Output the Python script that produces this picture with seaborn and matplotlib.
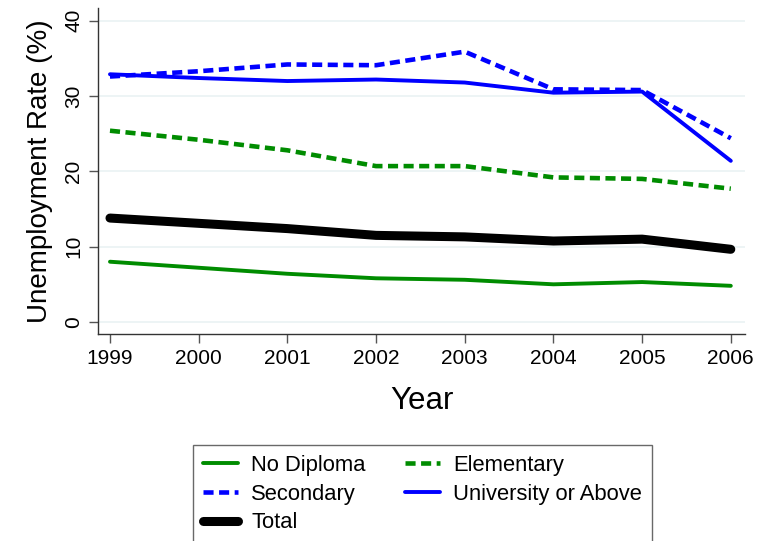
import matplotlib
matplotlib.use("Agg")
import matplotlib.pyplot as plt
import seaborn as sns
import pandas as pd

years = [1999, 2000, 2001, 2002, 2003, 2004, 2005, 2006]
no_diploma = [8.0, 7.2, 6.4, 5.8, 5.6, 5.0, 5.3, 4.8]
elementary = [25.4, 24.2, 22.8, 20.7, 20.7, 19.2, 19.0, 17.7]
secondary = [32.6, 33.3, 34.2, 34.1, 35.9, 30.9, 30.8, 24.4]
university = [32.9, 32.4, 32.0, 32.2, 31.8, 30.45, 30.6, 21.4]
total = [13.8, 13.1, 12.4, 11.5, 11.3, 10.75, 11.0, 9.65]
y_ticks = [0, 10, 20, 30, 40]

sns.set_theme(style="white")
plt.rcParams["font.family"] = ["Liberation Sans", "DejaVu Sans"]
plt.rcParams["text.color"] = "black"
plt.rcParams["axes.labelcolor"] = "black"
plt.rcParams["xtick.color"] = "black"
plt.rcParams["ytick.color"] = "black"

frames = {
    "No Diploma": no_diploma,
    "Secondary": secondary,
    "Total": total,
    "Elementary": elementary,
    "University or Above": university,
}
df = pd.concat(
    [pd.DataFrame({"Year": years, "Rate": v, "Group": k}) for k, v in frames.items()],
    ignore_index=True,
)

styles = {
    "No Diploma": dict(color="#008c00", lw=2.8, ls="-"),
    "Secondary": dict(color="#0000ff", lw=3.3, ls=(0, (2.2, 1.2))),
    "Total": dict(color="black", lw=6.5, ls="-"),
    "Elementary": dict(color="#008c00", lw=3.3, ls=(0, (2.2, 1.2))),
    "University or Above": dict(color="#0000ff", lw=2.8, ls="-"),
}

fig = plt.figure(figsize=(7.58, 5.41), dpi=100)
ax = fig.add_axes([98 / 758, 1 - 334 / 541, (745 - 98) / 758, (334 - 8) / 541])

for name in frames:
    st = styles[name]
    sns.lineplot(
        data=df[df["Group"] == name], x="Year", y="Rate", ax=ax,
        color=st["color"], linewidth=st["lw"], linestyle=st["ls"],
        label=name, solid_capstyle="round", dash_capstyle="butt",
    )

ax.set_xlim(1998.865, 2006.16)
ax.set_ylim(-1.6, 41.7)
ax.set_xticks(years)
ax.set_yticks(y_ticks)
ax.set_xticklabels([str(y) for y in years], fontsize=15)
ax.set_yticklabels([str(t) for t in y_ticks], fontsize=15, rotation=90, va="center")
for t in y_ticks:
    ax.axhline(t, color="#eaf2f3", lw=1.2, zorder=0)

for side in ["top", "right"]:
    ax.spines[side].set_visible(False)
for side in ["left", "bottom"]:
    ax.spines[side].set_color("#333333")
    ax.spines[side].set_linewidth(1.0)
ax.tick_params(axis="both", direction="out", length=6.5, width=1, color="#555555",
               left=True, bottom=True, pad=4)

ax.set_xlabel("Year", fontsize=22.5, labelpad=13)
ax.set_ylabel("Unemployment Rate (%)", fontsize=20, labelpad=8)

ax.legend_.remove()
handles, labels = ax.get_legend_handles_labels()
leg = fig.legend(
    handles, labels, ncol=2, loc="upper left",
    bbox_to_anchor=(193 / 758, 1 - 445 / 541), borderaxespad=0,
    fontsize=15.8, frameon=True, fancybox=False, edgecolor="#444444",
    handlelength=1.6, columnspacing=1.8, labelspacing=0.35, borderpad=0.45,
    handletextpad=0.6,
)
leg.get_frame().set_linewidth(1.0)

fig.savefig("out.png", dpi=100)
